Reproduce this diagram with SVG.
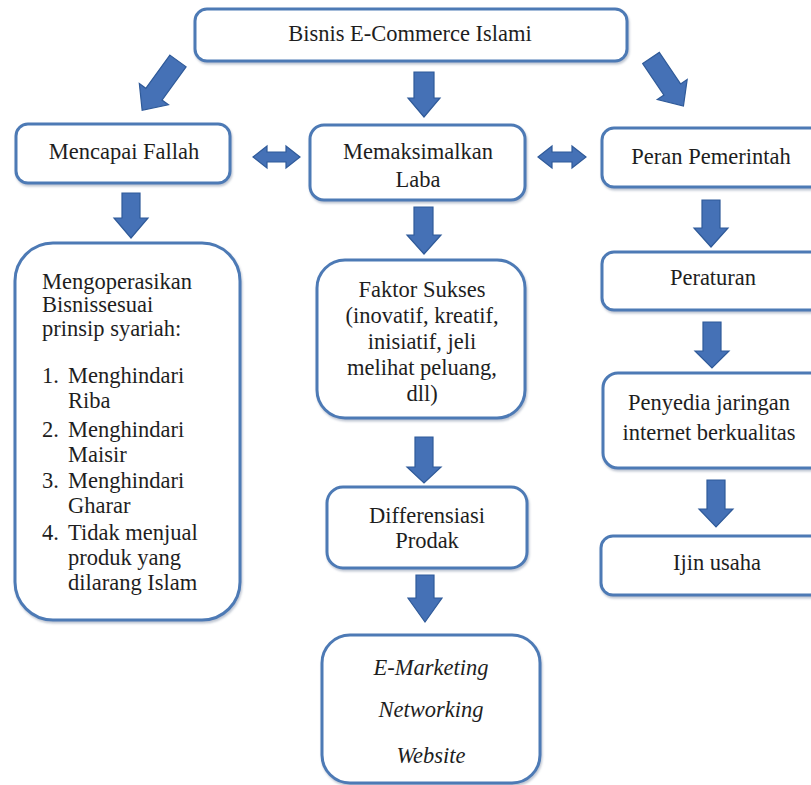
<svg xmlns="http://www.w3.org/2000/svg" width="811" height="785" viewBox="0 0 811 785" font-family="'Liberation Serif', 'Times New Roman', Tinos, 'DejaVu Serif', serif">
<defs>
<style>
.box{fill:#fff;stroke:#4d7ab5;stroke-width:3;filter:url(#sh)}
.arr{fill:#4571b6;stroke:#2f5a99;stroke-width:1.2}
.t{font-family:'Liberation Serif','Times New Roman',Tinos,'DejaVu Serif',serif;font-size:22.5px;fill:#1e1e1e}
.c{text-anchor:middle}
.i{font-style:italic}
</style>
<filter id="sh" x="-5%" y="-5%" width="110%" height="115%">
<feDropShadow dx="1" dy="2" stdDeviation="1.2" flood-color="#6d7f99" flood-opacity="0.45"/>
</filter>
</defs>
<rect width="811" height="785" fill="#fff"/>
<g id="connectors">
<path class="arr" transform="translate(178,61) rotate(36)" d="M-10,0 H10 V41 H18 L0,61 L-18,41 H-10 Z"/>
<path class="arr" d="M414,72 H434 V98 H440 L424,117 L408,98 H414 Z"/>
<path class="arr" transform="translate(651,58) rotate(-34)" d="M-10,0 H10 V38 H18 L0,58 L-18,38 H-10 Z"/>
<path class="arr" d="M253,157 L267,146 V152 H286 V146 L300,157 L286,168 V162 H267 V168 Z"/>
<path class="arr" d="M538,157 L552,146 V152 H572 V146 L586,157 L572,168 V162 H552 V168 Z"/>
<path class="arr" d="M122,193 H140 V218 H148 L131,238 L114,218 H122 Z"/>
<path class="arr" d="M414,207 H433 V235 H441 L424,254 L407,235 H414 Z"/>
<path class="arr" d="M702,200 H720 V228 H728 L711,247 L694,228 H702 Z"/>
<path class="arr" d="M703,322 H721 V351 H729 L712,368 L695,351 H703 Z"/>
<path class="arr" d="M707,480 H725 V509 H733 L716,527 L699,509 H707 Z"/>
<path class="arr" d="M415,437 H433 V467 H441 L424,483 L407,467 H415 Z"/>
<path class="arr" d="M416,575 H434 V598 H442 L425,622 L408,598 H416 Z"/>
</g>
<g id="n-top">
<rect class="box" x="195" y="9" width="432" height="52" rx="12"/>
<text class="t c" x="410" y="41">Bisnis E-Commerce Islami</text>
</g>
<g id="n-fallah">
<rect class="box" x="16" y="124" width="214" height="59" rx="12"/>
<text class="t c" x="124" y="159">Mencapai Fallah</text>
</g>
<g id="n-laba">
<rect class="box" x="310" y="125" width="215" height="75" rx="14"/>
<text class="t c" x="418" y="159">Memaksimalkan</text>
<text class="t c" x="418" y="187">Laba</text>
</g>
<g id="n-peran">
<rect class="box" x="602" y="128" width="228" height="59" rx="12"/>
<text class="t c" x="711" y="164">Peran Pemerintah</text>
</g>
<g id="n-syariah">
<rect class="box" x="15" y="243" width="225" height="377" rx="38"/>
<text class="t" x="42" y="289">Mengoperasikan</text>
<text class="t" x="42" y="312">Bisnissesuai</text>
<text class="t" x="42" y="336">prinsip syariah:</text>
<text class="t" x="42" y="383">1.</text><text class="t" x="68" y="383">Menghindari</text>
<text class="t" x="68" y="408">Riba</text>
<text class="t" x="42" y="437">2.</text><text class="t" x="68" y="437">Menghindari</text>
<text class="t" x="68" y="462">Maisir</text>
<text class="t" x="42" y="488">3.</text><text class="t" x="68" y="488">Menghindari</text>
<text class="t" x="68" y="513">Gharar</text>
<text class="t" x="42" y="540">4.</text><text class="t" x="68" y="540">Tidak menjual</text>
<text class="t" x="68" y="565">produk yang</text>
<text class="t" x="68" y="590">dilarang Islam</text>
</g>
<g id="n-faktor">
<rect class="box" x="317" y="260" width="208" height="158" rx="28"/>
<text class="t c" x="422" y="297">Faktor Sukses</text>
<text class="t c" x="422" y="323">(inovatif, kreatif,</text>
<text class="t c" x="422" y="349">inisiatif, jeli</text>
<text class="t c" x="422" y="375">melihat peluang,</text>
<text class="t c" x="422" y="401">dll)</text>
</g>
<g id="n-diff">
<rect class="box" x="327" y="487" width="200" height="81" rx="16"/>
<text class="t c" x="427" y="523">Differensiasi</text>
<text class="t c" x="427" y="548">Prodak</text>
</g>
<g id="n-emarketing">
<rect class="box" x="322" y="635" width="218" height="148" rx="28"/>
<text class="t c i" x="431" y="675">E-Marketing</text>
<text class="t c i" x="431" y="717">Networking</text>
<text class="t c i" x="431" y="763">Website</text>
</g>
<g id="n-peraturan">
<rect class="box" x="602" y="252" width="225" height="58" rx="12"/>
<text class="t c" x="713" y="285">Peraturan</text>
</g>
<g id="n-penyedia">
<rect class="box" x="603" y="373" width="224" height="95" rx="15"/>
<text class="t c" x="709" y="410">Penyedia jaringan</text>
<text class="t c" x="709" y="440">internet berkualitas</text>
</g>
<g id="n-ijin">
<rect class="box" x="601" y="536" width="232" height="59" rx="12"/>
<text class="t c" x="717" y="570">Ijin usaha</text>
</g>
</svg>
